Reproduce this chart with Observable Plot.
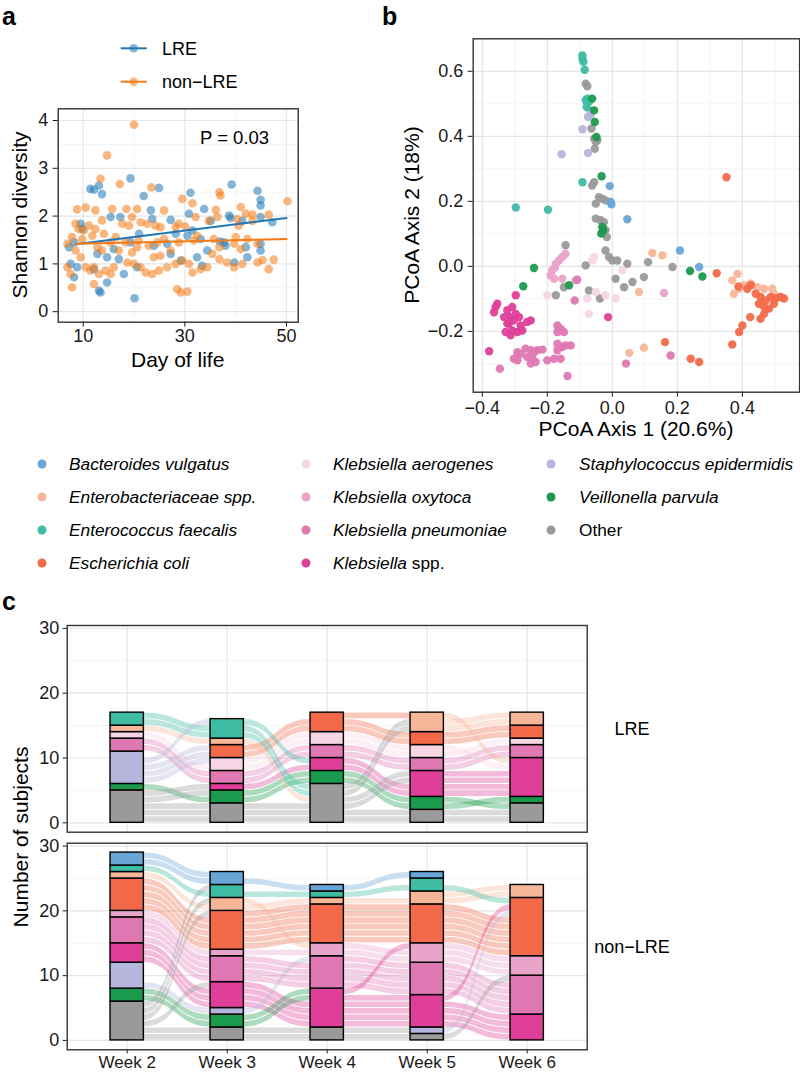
<!DOCTYPE html>
<html><head><meta charset="utf-8">
<script src="https://cdn.jsdelivr.net/npm/d3@7"></script>
<script src="https://cdn.jsdelivr.net/npm/@observablehq/plot@0.6"></script>
<style>
body{margin:0;background:#fff;}
#root{position:relative;width:800px;height:1072px;overflow:hidden;font-family:"Liberation Sans",Arial,sans-serif;background:#fff;}
</style></head><body><div id="root"></div>
<script>
// ---------------- DATA ----------------
// Panel a: Shannon diversity by day of life
const groupNames = ["LRE", "non\u2212LRE"];
const groupColors = ["#1f78b4", "#f47b16"];
const lreDay = [11.4,12.1,13.1,13.7,19.3,24.9,21.9,31.1,39.2,44.3,44.9,44.9,15.4,17.3,9.5,9.8,23.3,23.6,27.2,30.8,33.8,38.7,39.0,41.3,44.9,47.2,7.2,8.2,16.0,19.3,21.0,26.5,28.2,30.5,31.5,33.1,34.4,37.7,38.0,42.0,44.9,44.9,7.5,8.8,8.2,12.8,14.7,17.0,18.0,20.6,27.2,29.2,32.4,33.4,39.7,42.3,13.1,13.4,14.7,20.1,12.1,23.9,35.1,36.9];
const lreShannon = [2.57,2.55,2.64,2.46,2.79,2.59,2.42,2.49,2.66,2.53,2.34,2.22,1.98,1.98,1.84,1.73,2.12,1.94,1.92,2.05,2.15,2.01,1.96,1.90,1.98,1.87,1.35,1.45,1.31,1.45,1.63,1.42,1.63,1.59,1.70,1.52,1.28,1.45,1.38,1.35,1.42,1.28,1.00,0.93,0.72,1.21,1.14,1.10,0.79,0.93,1.21,1.07,1.14,0.96,1.03,1.14,0.44,0.40,0.61,0.28,0.89,1.38,1.90,1.47];
const nonDay = [20.0,14.7,13.4,17.2,23.4,36.8,37.0,50.2,8.8,10.5,12.4,15.7,18.5,20.6,25.9,29.5,31.5,36.1,41.0,42.0,43.3,46.5,8.5,9.1,10.1,11.1,11.8,12.4,13.7,14.1,17.7,19.0,19.6,21.3,22.6,24.2,25.2,28.2,28.8,30.1,32.1,34.7,36.4,40.3,40.6,43.3,6.9,7.8,8.5,9.8,15.4,16.4,18.3,20.9,22.9,24.6,25.9,28.8,31.8,32.4,35.7,39.7,40.0,42.3,44.3,9.5,10.5,11.4,12.1,13.1,14.4,15.4,16.0,18.7,20.0,21.3,22.3,23.6,24.9,23.9,25.2,26.5,28.2,29.5,30.8,31.5,33.1,34.4,35.4,36.8,38.3,39.7,41.3,44.3,46.5,6.9,7.5,7.8,12.1,28.5,29.2,30.5,13.7,12.8,17.0,19.6,20.6,27.2,36.8,41.0,47.5,45.3];
const nonShannon = [3.91,3.27,2.78,2.67,2.60,2.50,2.43,2.31,2.14,2.18,2.12,2.15,2.15,2.15,2.12,2.36,2.27,2.13,2.19,2.05,2.03,2.03,1.84,1.73,1.70,1.80,1.59,1.73,1.91,1.63,1.84,1.80,1.98,1.87,1.84,1.80,1.77,1.77,1.84,1.78,1.98,1.90,1.98,1.94,1.80,1.90,1.42,1.56,1.28,1.52,1.45,1.56,1.45,1.49,1.38,1.45,1.52,1.45,1.49,1.59,1.52,1.42,1.56,1.52,1.42,1.14,0.93,0.86,0.93,0.79,0.86,0.79,0.93,1.03,1.00,0.93,0.82,0.79,0.86,1.14,1.17,0.93,1.00,1.07,1.00,0.82,0.89,0.93,1.21,1.10,1.03,0.93,1.00,1.03,0.89,0.93,0.79,0.51,0.58,0.47,0.40,0.42,1.28,1.35,1.28,1.24,1.35,1.28,1.35,1.31,1.09,1.08];
const fitDay = [8.5, 50];
const lreFit = [1.41, 1.96];
const nonFit = [1.42, 1.52];
const aXTicks = [10, 30, 50], aXMinor = [20, 40];
const aYTicks = [0, 1, 2, 3, 4], aYMinor = [0.5, 1.5, 2.5, 3.5];

// Panel b: PCoA, points per taxon as [axis1, axis2]
const taxa = ["Bacteroides vulgatus","Enterobacteriaceae spp.","Enterococcus faecalis","Escherichia coli","Klebsiella aerogenes","Klebsiella oxytoca","Klebsiella pneumoniae","Klebsiella spp.","Staphylococcus epidermidis","Veillonella parvula","Other"];
const taxonColors = ["#68a6d8","#f7b698","#3ebca4","#f26a49","#f6d6e5","#e9a4c9","#df78b3","#df3f99","#b6b6dc","#1b9a4d","#9a9a9a"];
const pcoaOther = [[-0.082,0.562],[-0.077,0.554],[-0.064,0.424],[-0.056,0.393],[-0.051,0.383],[-0.046,0.388],[-0.054,0.362],[-0.062,0.249],[-0.056,0.259],[-0.041,0.213],[-0.031,0.208],[-0.021,0.203],[-0.051,0.193],[-0.051,0.147],[-0.036,0.142],[-0.026,0.136],[-0.021,0.111],[-0.017,0.090],[-0.021,0.049],[-0.010,0.029],[0.000,0.018],[0.015,0.018],[0.010,-0.038],[0.046,0.008],[0.036,-0.064],[0.062,-0.048],[0.097,-0.033],[0.110,0.013],[0.185,-0.002],[-0.082,0.003],[-0.072,-0.074],[-0.038,-0.099],[-0.144,0.065],[-0.174,-0.089],[-0.149,-0.064]];
const pcoaEnterococcus = [[-0.092,0.649],[-0.092,0.639],[-0.089,0.629],[-0.085,0.605],[-0.077,0.516],[-0.072,0.506],[-0.082,0.511],[-0.079,0.490],[-0.092,0.259],[-0.297,0.181],[-0.198,0.174]];
const pcoaVeillonella = [[-0.062,0.516],[-0.056,0.480],[-0.054,0.444],[-0.049,0.398],[-0.033,0.277],[-0.031,0.121],[-0.028,0.111],[-0.034,0.101],[-0.241,-0.005],[-0.274,-0.061],[-0.133,-0.058],[0.239,-0.014],[0.277,-0.031]];
const pcoaStaph = [[-0.069,0.480],[-0.067,0.465],[-0.075,0.459],[-0.092,0.422],[-0.075,0.349],[-0.156,0.345]];
const pcoaBacteroides = [[-0.008,0.247],[-0.005,0.198],[-0.003,0.191],[0.046,0.145],[0.208,0.049],[0.267,-0.002]];
const pcoaEnterobact = [[0.123,0.041],[0.154,0.034],[0.082,-0.079],[0.052,-0.266],[0.097,-0.250],[0.369,-0.043],[0.385,-0.023],[0.374,-0.084],[0.390,-0.069],[0.405,-0.058],[0.426,-0.053],[0.446,-0.064],[0.467,-0.069],[0.492,-0.069],[0.497,-0.084],[0.508,-0.094]];
const pcoaEcoli = [[0.351,0.274],[0.321,-0.021],[0.388,-0.062],[0.415,-0.069],[0.426,-0.058],[0.441,-0.084],[0.456,-0.094],[0.472,-0.105],[0.487,-0.094],[0.503,-0.099],[0.518,-0.094],[0.528,-0.099],[0.451,-0.115],[0.467,-0.125],[0.482,-0.130],[0.497,-0.115],[0.467,-0.146],[0.456,-0.161],[0.424,-0.156],[0.400,-0.182],[0.390,-0.202],[0.369,-0.240],[0.162,-0.233],[0.241,-0.284],[0.267,-0.294]];
const pcoaKaerogenes = [[-0.056,0.029],[-0.062,0.018],[0.031,-0.012],[0.010,-0.099],[-0.051,-0.079],[-0.021,-0.089],[-0.072,-0.146],[-0.077,-0.099],[-0.200,-0.089]];
const pcoaKoxytoca = [[-0.164,0.018],[-0.154,0.029],[-0.144,0.039],[-0.174,0.008],[-0.177,-0.004],[-0.185,-0.012],[-0.190,-0.028],[-0.179,-0.038],[-0.154,-0.038],[-0.113,-0.043],[0.159,-0.082]];
const pcoaKpneumoniae = [[-0.169,-0.182],[-0.159,-0.192],[-0.169,-0.202],[-0.149,-0.202],[-0.169,-0.238],[-0.154,-0.248],[-0.144,-0.243],[-0.128,-0.243],[-0.169,-0.258],[-0.159,-0.284],[-0.179,-0.284],[-0.138,-0.337],[-0.282,-0.269],[-0.267,-0.253],[-0.251,-0.258],[-0.241,-0.264],[-0.231,-0.258],[-0.215,-0.256],[-0.262,-0.279],[-0.246,-0.284],[-0.236,-0.294],[-0.251,-0.299],[-0.292,-0.289],[-0.303,-0.284],[-0.200,-0.289],[-0.292,-0.264],[-0.346,-0.315],[0.042,-0.299],[0.179,-0.274],[-0.116,-0.105],[-0.108,-0.041]];
const pcoaKspp = [[-0.359,-0.125],[-0.354,-0.115],[-0.364,-0.141],[-0.323,-0.135],[-0.313,-0.156],[-0.318,-0.176],[-0.308,-0.197],[-0.328,-0.202],[-0.303,-0.166],[-0.287,-0.156],[-0.282,-0.182],[-0.277,-0.197],[-0.292,-0.202],[-0.262,-0.171],[-0.251,-0.166],[-0.297,-0.089],[-0.308,-0.125],[-0.297,-0.146],[-0.313,-0.212],[-0.323,-0.176],[-0.333,-0.156],[-0.379,-0.261],[-0.013,-0.156]];
const bTicks = [-0.4, -0.2, 0, 0.2, 0.4], bXMinor = [-0.3, -0.1, 0.1, 0.3, 0.5];
const bYTicks = [-0.2, 0, 0.2, 0.4, 0.6], bYMinor = [-0.3, -0.1, 0.1, 0.3, 0.5];

// Panel c: subjects per dominant taxon per week (Week 2..6); rows in stacking order bottom->top
const weeks = [2, 3, 4, 5, 6];
const stackTaxa = ["Other","Veillonella parvula","Staphylococcus epidermidis","Klebsiella spp.","Klebsiella pneumoniae","Klebsiella oxytoca","Klebsiella aerogenes","Escherichia coli","Enterobacteriaceae spp.","Enterococcus faecalis","Bacteroides vulgatus"];
const lreCounts = [
  [5,3,6,2,3],
  [1,2,2,2,1],
  [5,0,0,0,0],
  [0,1,2,4,6],
  [2,2,2,2,2],
  [0,0,0,0,0],
  [1,2,2,2,1],
  [0,2,3,2,2],
  [1,1,0,3,2],
  [2,3,0,0,0],
  [0,0,0,0,0]
];
const nonCounts = [
  [6,2,2,1,0],
  [2,2,0,0,0],
  [4,1,0,1,0],
  [3,4,6,5,4],
  [4,4,5,5,6],
  [1,1,2,3,3],
  [0,0,0,0,0],
  [5,6,6,6,9],
  [1,2,1,2,2],
  [1,2,1,2,0],
  [2,2,1,1,0]
];
const cYTicks = [0, 10, 20, 30], cYMinor = [5, 15, 25];

// ---------------- RENDER ----------------
const root = document.getElementById("root");
const FONT = '"Liberation Sans", Arial, sans-serif';
function place(el, left, top) {
  el.style.position = "absolute"; el.style.left = left + "px"; el.style.top = top + "px";
  root.appendChild(el);
}
const style = {fontFamily: FONT, fontSize: "18px", color: "#1a1a1a", background: "transparent", overflow: "visible"};
const majorGrid = "#e6e6e6", minorGrid = "#f3f3f3";
const frameStyle = {stroke: "#333", strokeWidth: 1.4};
const minusFmt = d => d3.format(".1f")(d).replace("-", "\u2212");

// Panel a
const shannonRows = [
  ...lreDay.map((d, i) => ({day: d, h: lreShannon[i], g: groupNames[0]})),
  ...nonDay.map((d, i) => ({day: d, h: nonShannon[i], g: groupNames[1]}))
];
const fitRows = [
  ...fitDay.map((d, i) => ({day: d, h: lreFit[i], g: groupNames[0]})),
  ...fitDay.map((d, i) => ({day: d, h: nonFit[i], g: groupNames[1]}))
];
const plotA = Plot.plot({
  width: 310, height: 380,
  marginLeft: 57.7, marginRight: 12.3, marginTop: 108.3, marginBottom: 58.3,
  style,
  x: {domain: [5.08, 52.3]},
  y: {domain: [-0.22, 4.245]},
  color: {domain: groupNames, range: groupColors},
  marks: [
    Plot.ruleX(aXMinor, {stroke: minorGrid, strokeWidth: 0.8}),
    Plot.ruleY(aYMinor, {stroke: minorGrid, strokeWidth: 0.8}),
    Plot.ruleX(aXTicks, {stroke: majorGrid, strokeWidth: 1.2}),
    Plot.ruleY(aYTicks, {stroke: majorGrid, strokeWidth: 1.2}),
    Plot.dot(shannonRows, {x: "day", y: "h", fill: "g", r: 4.3, fillOpacity: 0.55}),
    Plot.line(fitRows, {x: "day", y: "h", stroke: "g", z: "g", strokeWidth: 2}),
    Plot.frame(frameStyle),
    Plot.axisX({ticks: aXTicks, tickSize: 5, tickPadding: 2, label: null, tickFormat: d => String(d)}),
    Plot.axisY({ticks: aYTicks, tickSize: 5, tickPadding: 5, label: null, tickFormat: d => String(d)})
  ]
});
place(plotA, 0, 0);

// Panel b
const pcoaSets = [pcoaBacteroides, pcoaEnterobact, pcoaEnterococcus, pcoaEcoli, pcoaKaerogenes, pcoaKoxytoca, pcoaKpneumoniae, pcoaKspp, pcoaStaph, pcoaVeillonella, pcoaOther];
const pcoaRows = [];
[10, 8, 2, 9, 0, 1, 3, 4, 5, 6, 7].forEach(ti => {
  pcoaSets[ti].forEach(([a1, a2]) => pcoaRows.push({a1, a2, taxon: taxa[ti]}));
});
const plotB = Plot.plot({
  width: 400, height: 440,
  marginLeft: 72.7, marginRight: 0.9, marginTop: 38.3, marginBottom: 48.3,
  style,
  x: {domain: [-0.428, 0.576]},
  y: {domain: [-0.387, 0.700]},
  color: {domain: taxa, range: taxonColors},
  marks: [
    Plot.ruleX(bXMinor, {stroke: minorGrid, strokeWidth: 0.8}),
    Plot.ruleY(bYMinor, {stroke: minorGrid, strokeWidth: 0.8}),
    Plot.ruleX(bTicks, {stroke: majorGrid, strokeWidth: 1.2}),
    Plot.ruleY(bYTicks, {stroke: majorGrid, strokeWidth: 1.2}),
    Plot.dot(pcoaRows, {x: "a1", y: "a2", fill: "taxon", r: 4.2, fillOpacity: 0.95}),
    Plot.frame(frameStyle),
    Plot.axisX({ticks: bTicks, tickSize: 5, tickPadding: 4, label: null, tickFormat: minusFmt}),
    Plot.axisY({ticks: bYTicks, tickSize: 5, tickPadding: 5, label: null, tickFormat: minusFmt})
  ]
});
place(plotB, 400, 0);

// Panel c
const halfBar = 1 / 6, inset = 0.07;
function alluvial(counts, opts) {
  const segs = [];
  const units = weeks.map((w, wi) => {
    const u = []; let y = 0;
    stackTaxa.forEach((t, ti) => {
      const c = counts[ti][wi];
      if (c > 0) segs.push({week: w, taxon: t, y1: y, y2: y + c});
      for (let k = 0; k < c; k++) u.push({taxon: t, pos: y + k});
      y += c;
    });
    return u;
  });
  const ribbons = [];
  for (let i = 0; i < weeks.length - 1; i++) {
    const a = units[i], b = units[i + 1];
    const usedA = new Set(), usedB = new Set(), pairs = [];
    a.forEach((ua, ia) => {
      const ib = b.findIndex((ub, j) => !usedB.has(j) && ub.taxon === ua.taxon);
      if (ib >= 0) { usedA.add(ia); usedB.add(ib); pairs.push([ua, b[ib]]); }
    });
    const la = a.filter((_, j) => !usedA.has(j)), lb = b.filter((_, j) => !usedB.has(j));
    for (let k = 0; k < Math.min(la.length, lb.length); k++) pairs.push([la[k], lb[k]]);
    pairs.forEach(([ua, ub], k) => {
      const id = i + "-" + k;
      ribbons.push({id, x: weeks[i] + halfBar, y1: ua.pos + inset, y2: ua.pos + 1 - inset, taxon: ua.taxon});
      ribbons.push({id, x: weeks[i + 1] - halfBar, y1: ub.pos + inset, y2: ub.pos + 1 - inset, taxon: ua.taxon});
    });
  }
  const marks = [
    Plot.ruleY(cYMinor, {stroke: minorGrid, strokeWidth: 0.8}),
    Plot.ruleX(weeks, {stroke: majorGrid, strokeWidth: 1.2}),
    Plot.ruleY(cYTicks, {stroke: majorGrid, strokeWidth: 1.2}),
    Plot.areaY(ribbons, {x: "x", y1: "y1", y2: "y2", z: "id", fill: "taxon", fillOpacity: 0.36, curve: "bump-x"}),
    Plot.rect(segs, {x1: d => d.week - halfBar, x2: d => d.week + halfBar, y1: "y1", y2: "y2", fill: "taxon", stroke: "#000", strokeWidth: 1.4}),
    Plot.frame(frameStyle),
    Plot.axisY({ticks: cYTicks, tickSize: 4, tickPadding: 4, label: null})
  ];
  if (opts.showX) marks.push(Plot.axisX({ticks: weeks, tickSize: 4, tickPadding: 2, label: null, fontSize: 17, tickFormat: d => "Week " + d}));
  return Plot.plot({
    width: 600, height: opts.height,
    marginLeft: 66.7, marginRight: 13.3, marginTop: opts.mT, marginBottom: opts.mB,
    style,
    x: {domain: [1.4, 6.6], axis: opts.showX ? undefined : null},
    y: {domain: [-1.45, 30.45]},
    color: {domain: taxa, range: taxonColors},
    marks
  });
}
place(alluvial(lreCounts, {height: 240, mT: 25, mB: 8.3, showX: false}), 0, 600);
place(alluvial(nonCounts, {height: 237, mT: 7.7, mB: 22.7, showX: true}), 0, 835);

// ---------------- TEXT OVERLAY ----------------
const ov = d3.create("svg").attr("width", 800).attr("height", 1072)
  .style("position", "absolute").style("left", "0px").style("top", "0px")
  .style("font-family", FONT).style("pointer-events", "none");
function txt(x, y, s, o = {}) {
  const t = ov.append("text").attr("x", x).attr("y", y).text(s)
    .attr("font-size", o.size || 18).attr("fill", o.fill || "#000")
    .attr("text-anchor", o.anchor || "start");
  if (o.bold) t.attr("font-weight", "bold");
  if (o.italic) t.attr("font-style", "italic");
  if (o.rotate) t.attr("transform", `rotate(-90 ${x} ${y})`);
  return t;
}
txt(2, 25, "a", {size: 25, bold: true});
txt(382, 25, "b", {size: 25, bold: true});
txt(2, 610, "c", {size: 25, bold: true});

// panel a legend
[[48.3, 0], [81.7, 1]].forEach(([y, gi]) => {
  ov.append("line").attr("x1", 120.7).attr("x2", 146.7).attr("y1", y).attr("y2", y)
    .attr("stroke", groupColors[gi]).attr("stroke-width", 2);
  ov.append("circle").attr("cx", 133.7).attr("cy", y).attr("r", 4.3)
    .attr("fill", groupColors[gi]).attr("fill-opacity", 0.55);
  txt(162, y + 6.3, groupNames[gi], {size: 18});
});
txt(200, 143.5, "P = 0.03", {size: 18.5});
txt(27, 215, "Shannon diversity", {size: 21, anchor: "middle", rotate: true});
txt(177.7, 367, "Day of life", {size: 21, anchor: "middle"});
txt(419, 215, "PCoA Axis 2 (18%)", {size: 21, anchor: "middle", rotate: true});
txt(636, 436, "PCoA Axis 1 (20.6%)", {size: 21, anchor: "middle"});

// species legend (column-major, 4 rows)
const legX = [[42, 69], [306, 333], [551, 579]];
const legY = [464, 497, 530, 563];
taxa.forEach((t, i) => {
  const col = Math.floor(i / 4), row = i % 4;
  const [dx, tx] = legX[col], y = legY[row];
  ov.append("circle").attr("cx", dx).attr("cy", y).attr("r", 4.5).attr("fill", taxonColors[i]);
  const el = txt(tx, y + 6, "", {size: 17.3});
  if (t === "Other") el.text(t);
  else if (t === "Klebsiella spp.") {
    el.append("tspan").attr("font-style", "italic").text("Klebsiella");
    el.append("tspan").text(" spp.");
  } else el.attr("font-style", "italic").text(t);
});

txt(28, 837, "Number of subjects", {size: 21, anchor: "middle", rotate: true});
txt(632, 734.5, "LRE", {size: 18, anchor: "middle"});
txt(632, 953, "non\u2212LRE", {size: 18, anchor: "middle"});

root.appendChild(ov.node());
</script></body></html>
